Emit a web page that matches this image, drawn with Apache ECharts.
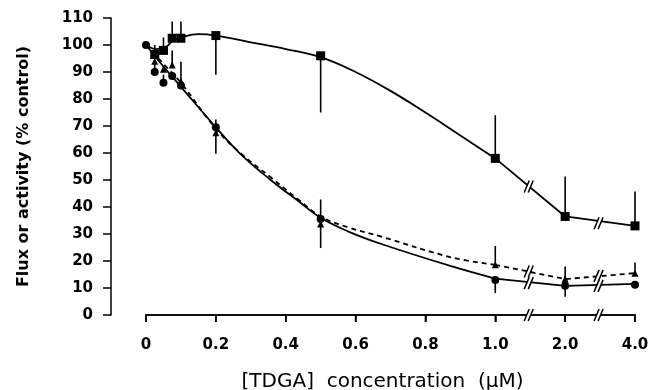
<!DOCTYPE html>
<html>
<head>
<meta charset="utf-8">
<script src="https://cdn.jsdelivr.net/npm/echarts@6/dist/echarts.min.js"></script>
<style>
  html, body { margin: 0; padding: 0; background: #fff; }
  #chart { width: 650px; height: 390px; }
</style>
</head>
<body>
<div id="chart"></div>
<script>
// tick labels on the broken x axis (0..1.0 linear, then 2.0 and 4.0)
const xTickLabels = ["0", "0.2", "0.4", "0.6", "0.8", "1.0", "2.0", "4.0"];
const xMin = 0;
const xMax = 1.4;
const xStep = 0.2;
const breakConc = [1.5, 3];

// squares (solid)
const sqX = [0.025, 0.05, 0.075, 0.1, 0.2, 0.5, 1.0, 2.0, 4.0];
const sqY = [96.5, 98, 102.5, 102.5, 103.5, 96, 58, 36.5, 33];
const sqErr = [100, 102.8, 108.7, 108.7, 89, 75, 74, 51.3, 45.7];
const sqCurveX = [0, 0.03, 0.06, 0.075, 0.1, 0.15, 0.2, 0.3, 0.4, 0.5, 0.6, 0.7, 0.8, 0.9, 1.0];
const sqCurveY = [100, 98.5, 99.5, 101.5, 102.8, 104, 103.5, 101, 98.5, 95.5, 90, 83, 75, 66.5, 58];
const sqTailY = [58, 36.5, 33];
const sqBreakY = [47.6, 34];

// circles (solid)
const ciX = [0, 0.025, 0.05, 0.075, 0.1, 0.2, 0.5, 1.0, 2.0, 4.0];
const ciY = [100, 90, 86, 88.5, 85, 69.5, 35.6, 13, 10.8, 11.2];
const ciErr = [null, 93, 89, null, null, 72.4, 42.8, 8.1, 6.8, null];
const ciCurveX = [0, 0.05, 0.1, 0.2, 0.27, 0.357, 0.434, 0.5, 0.578, 0.674, 0.876, 1.0];
const ciCurveY = [100, 92, 84.5, 69.5, 59.7, 50, 42.4, 36, 31, 26.3, 18, 13.5];
const ciTailY = [13.5, 10.8, 11.5];
const ciBreakY = [11.8, 10.8];

// triangles (dashed)
const trX = [0.025, 0.05, 0.075, 0.1, 0.2, 0.5, 1.0, 2.0, 4.0];
const trY = [94, 91, 92.6, 86.5, 67.5, 33.7, 18.6, 13.3, 15.5];
const trErr = [null, null, 98, 93.8, 59.7, 24.8, 25.6, 18, 19.4];
const trCurveX = [0, 0.05, 0.1, 0.2, 0.27, 0.357, 0.434, 0.5, 0.578, 0.674, 0.876, 1.0];
const trCurveY = [100, 93, 86, 69, 60, 51, 43, 36.5, 32.5, 29, 21.3, 18.6];
const trTailY = [18.6, 13.3, 15.5];
const trBreakY = [16.1, 14.5];

const tailX = [1.0, 2.0, 4.0];

// map concentration onto the broken axis
function pos(c) {
  if (c <= 1) return c;
  if (c <= 2) return 1 + (c - 1) * 0.2;
  return 1.2 + (c - 2) * 0.1;
}
const zip = (xs, ys) => xs.map((x, i) => [pos(x), ys[i]]);
const errData = (xs, ys, es) =>
  xs.map((x, i) => (es[i] == null ? null : [pos(x), ys[i], es[i]])).filter(Boolean);

const font = "DejaVu Sans";

function errSeries(data) {
  return {
    type: "custom",
    z: 3,
    silent: true,
    renderItem: function (params, api) {
      const a = api.coord([api.value(0), api.value(1)]);
      const b = api.coord([api.value(0), api.value(2)]);
      return {
        type: "line",
        shape: { x1: a[0], y1: a[1], x2: b[0], y2: b[1] },
        style: { stroke: "#000", lineWidth: 1.6 },
      };
    },
    data: data,
  };
}

// x axis baseline + ticks (the built-in one does not show up here)
const xFrame = {
  type: "custom",
  z: 1,
  silent: true,
  renderItem: function (params, api) {
    const t = api.coord([api.value(0), 0]);
    const children = [
      {
        type: "line",
        shape: { x1: t[0], y1: t[1], x2: t[0], y2: t[1] + 7 },
        style: { stroke: "#000", lineWidth: 1.5 },
      },
    ];
    if (params.dataIndex === 0) {
      const a = api.coord([xMin, 0]);
      const b = api.coord([xMax, 0]);
      children.push({
        type: "line",
        shape: { x1: a[0] - 0.75, y1: a[1], x2: b[0] + 0.75, y2: b[1] },
        style: { stroke: "#000", lineWidth: 1.5 },
      });
    }
    return { type: "group", children: children };
  },
  data: xTickLabels.map((_, i) => [xMin + i * xStep, 0]),
};

function breakSeries(ys) {
  return {
    type: "custom",
    z: 5,
    silent: true,
    renderItem: function (params, api) {
      const p = api.coord([api.value(0), api.value(1)]);
      const x = p[0], y = p[1];
      return {
        type: "group",
        children: [
          {
            type: "polygon",
            shape: { points: [[x - 6, y + 6], [x - 1, y - 6], [x + 3, y - 6], [x - 2, y + 6]] },
            style: { fill: "#fff" },
          },
          {
            type: "line",
            shape: { x1: x - 6, y1: y + 6, x2: x - 1, y2: y - 6 },
            style: { stroke: "#000", lineWidth: 1.5 },
          },
          {
            type: "line",
            shape: { x1: x - 2, y1: y + 6, x2: x + 3, y2: y - 6 },
            style: { stroke: "#000", lineWidth: 1.5 },
          },
        ],
      };
    },
    data: breakConc.map((c, i) => [pos(c), ys[i]]),
  };
}

function lineSeries(data, smooth, dashed) {
  return {
    type: "line",
    data: data,
    smooth: smooth ? 0.4 : false,
    showSymbol: false,
    symbol: "none",
    silent: true,
    z: 2,
    lineStyle: { color: "#000", width: 1.8, type: dashed ? [5, 4] : "solid" },
  };
}

function markSeries(data, symbol, size) {
  return {
    type: "scatter",
    data: data,
    symbol: symbol,
    symbolSize: size,
    z: 4,
    silent: true,
    itemStyle: { color: "#000", opacity: 1 },
  };
}

const chart = echarts.init(document.getElementById("chart"));
chart.setOption({
  animation: false,
  backgroundColor: "#fff",
  grid: [
    // data area
    { left: 146, right: 15, top: 18, bottom: 75, outerBoundsMode: "none" },
    // detached y axis
    { left: 111, width: 10, top: 18, bottom: 75, outerBoundsMode: "none" },
  ],
  xAxis: [
    {
      type: "value",
      gridIndex: 0,
      min: xMin,
      max: xMax,
      interval: xStep,
      name: "[TDGA]  concentration  (μM)",
      nameLocation: "middle",
      nameGap: 57,
      nameMoveOverlap: false,
      nameTextStyle: { color: "#000", fontFamily: font, fontSize: 20, padding: [0, 16, 0, 0] },
      axisLine: { show: true, onZero: false, lineStyle: { color: "#000", width: 1.5 } },
      axisTick: { show: true, length: 7, lineStyle: { color: "#000", width: 1.5 } },
      axisLabel: {
        color: "#000",
        fontFamily: font,
        fontWeight: "bold",
        fontSize: 15,
        margin: 14,
        padding: [9, 0, 0, 0],
        formatter: (v) => xTickLabels[Math.round(v / xStep)],
      },
      splitLine: { show: false },
    },
    { type: "value", gridIndex: 1, min: 0, max: 1, show: false },
  ],
  yAxis: [
    {
      type: "value",
      gridIndex: 0,
      min: 0,
      max: 110,
      axisLine: { show: false },
      axisTick: { show: false },
      axisLabel: { show: false },
      splitLine: { show: false },
    },
    {
      type: "value",
      gridIndex: 1,
      min: 0,
      max: 110,
      interval: 10,
      name: "Flux or activity (% control)",
      nameLocation: "middle",
      nameGap: 79,
      nameMoveOverlap: false,
      nameTextStyle: { color: "#000", fontFamily: font, fontWeight: "bold", fontSize: 16 },
      axisLine: { show: true, lineStyle: { color: "#000", width: 1.5 } },
      axisTick: { show: true, length: 8, lineStyle: { color: "#000", width: 1.5 } },
      axisLabel: { color: "#000", fontFamily: font, fontWeight: "bold", fontSize: 15, margin: 18 },
      splitLine: { show: false },
    },
  ],
  series: [
    xFrame,
    lineSeries(zip(sqCurveX, sqCurveY), true, false),
    lineSeries(zip(tailX, sqTailY), false, false),
    lineSeries(zip(ciCurveX, ciCurveY), true, false),
    lineSeries(zip(tailX, ciTailY), false, false),
    lineSeries(zip(trCurveX, trCurveY), true, true),
    lineSeries(zip(tailX, trTailY), false, true),
    errSeries(errData(sqX, sqY, sqErr)),
    errSeries(errData(ciX, ciY, ciErr)),
    errSeries(errData(trX, trY, trErr)),
    markSeries(zip(sqX, sqY), "rect", 9),
    markSeries(zip(ciX, ciY), "circle", 8),
    markSeries(zip(trX, trY), "triangle", 7),
    breakSeries(sqBreakY),
    breakSeries(ciBreakY),
    breakSeries(trBreakY),
    breakSeries([0, 0]),
  ],
});
</script>
</body>
</html>
